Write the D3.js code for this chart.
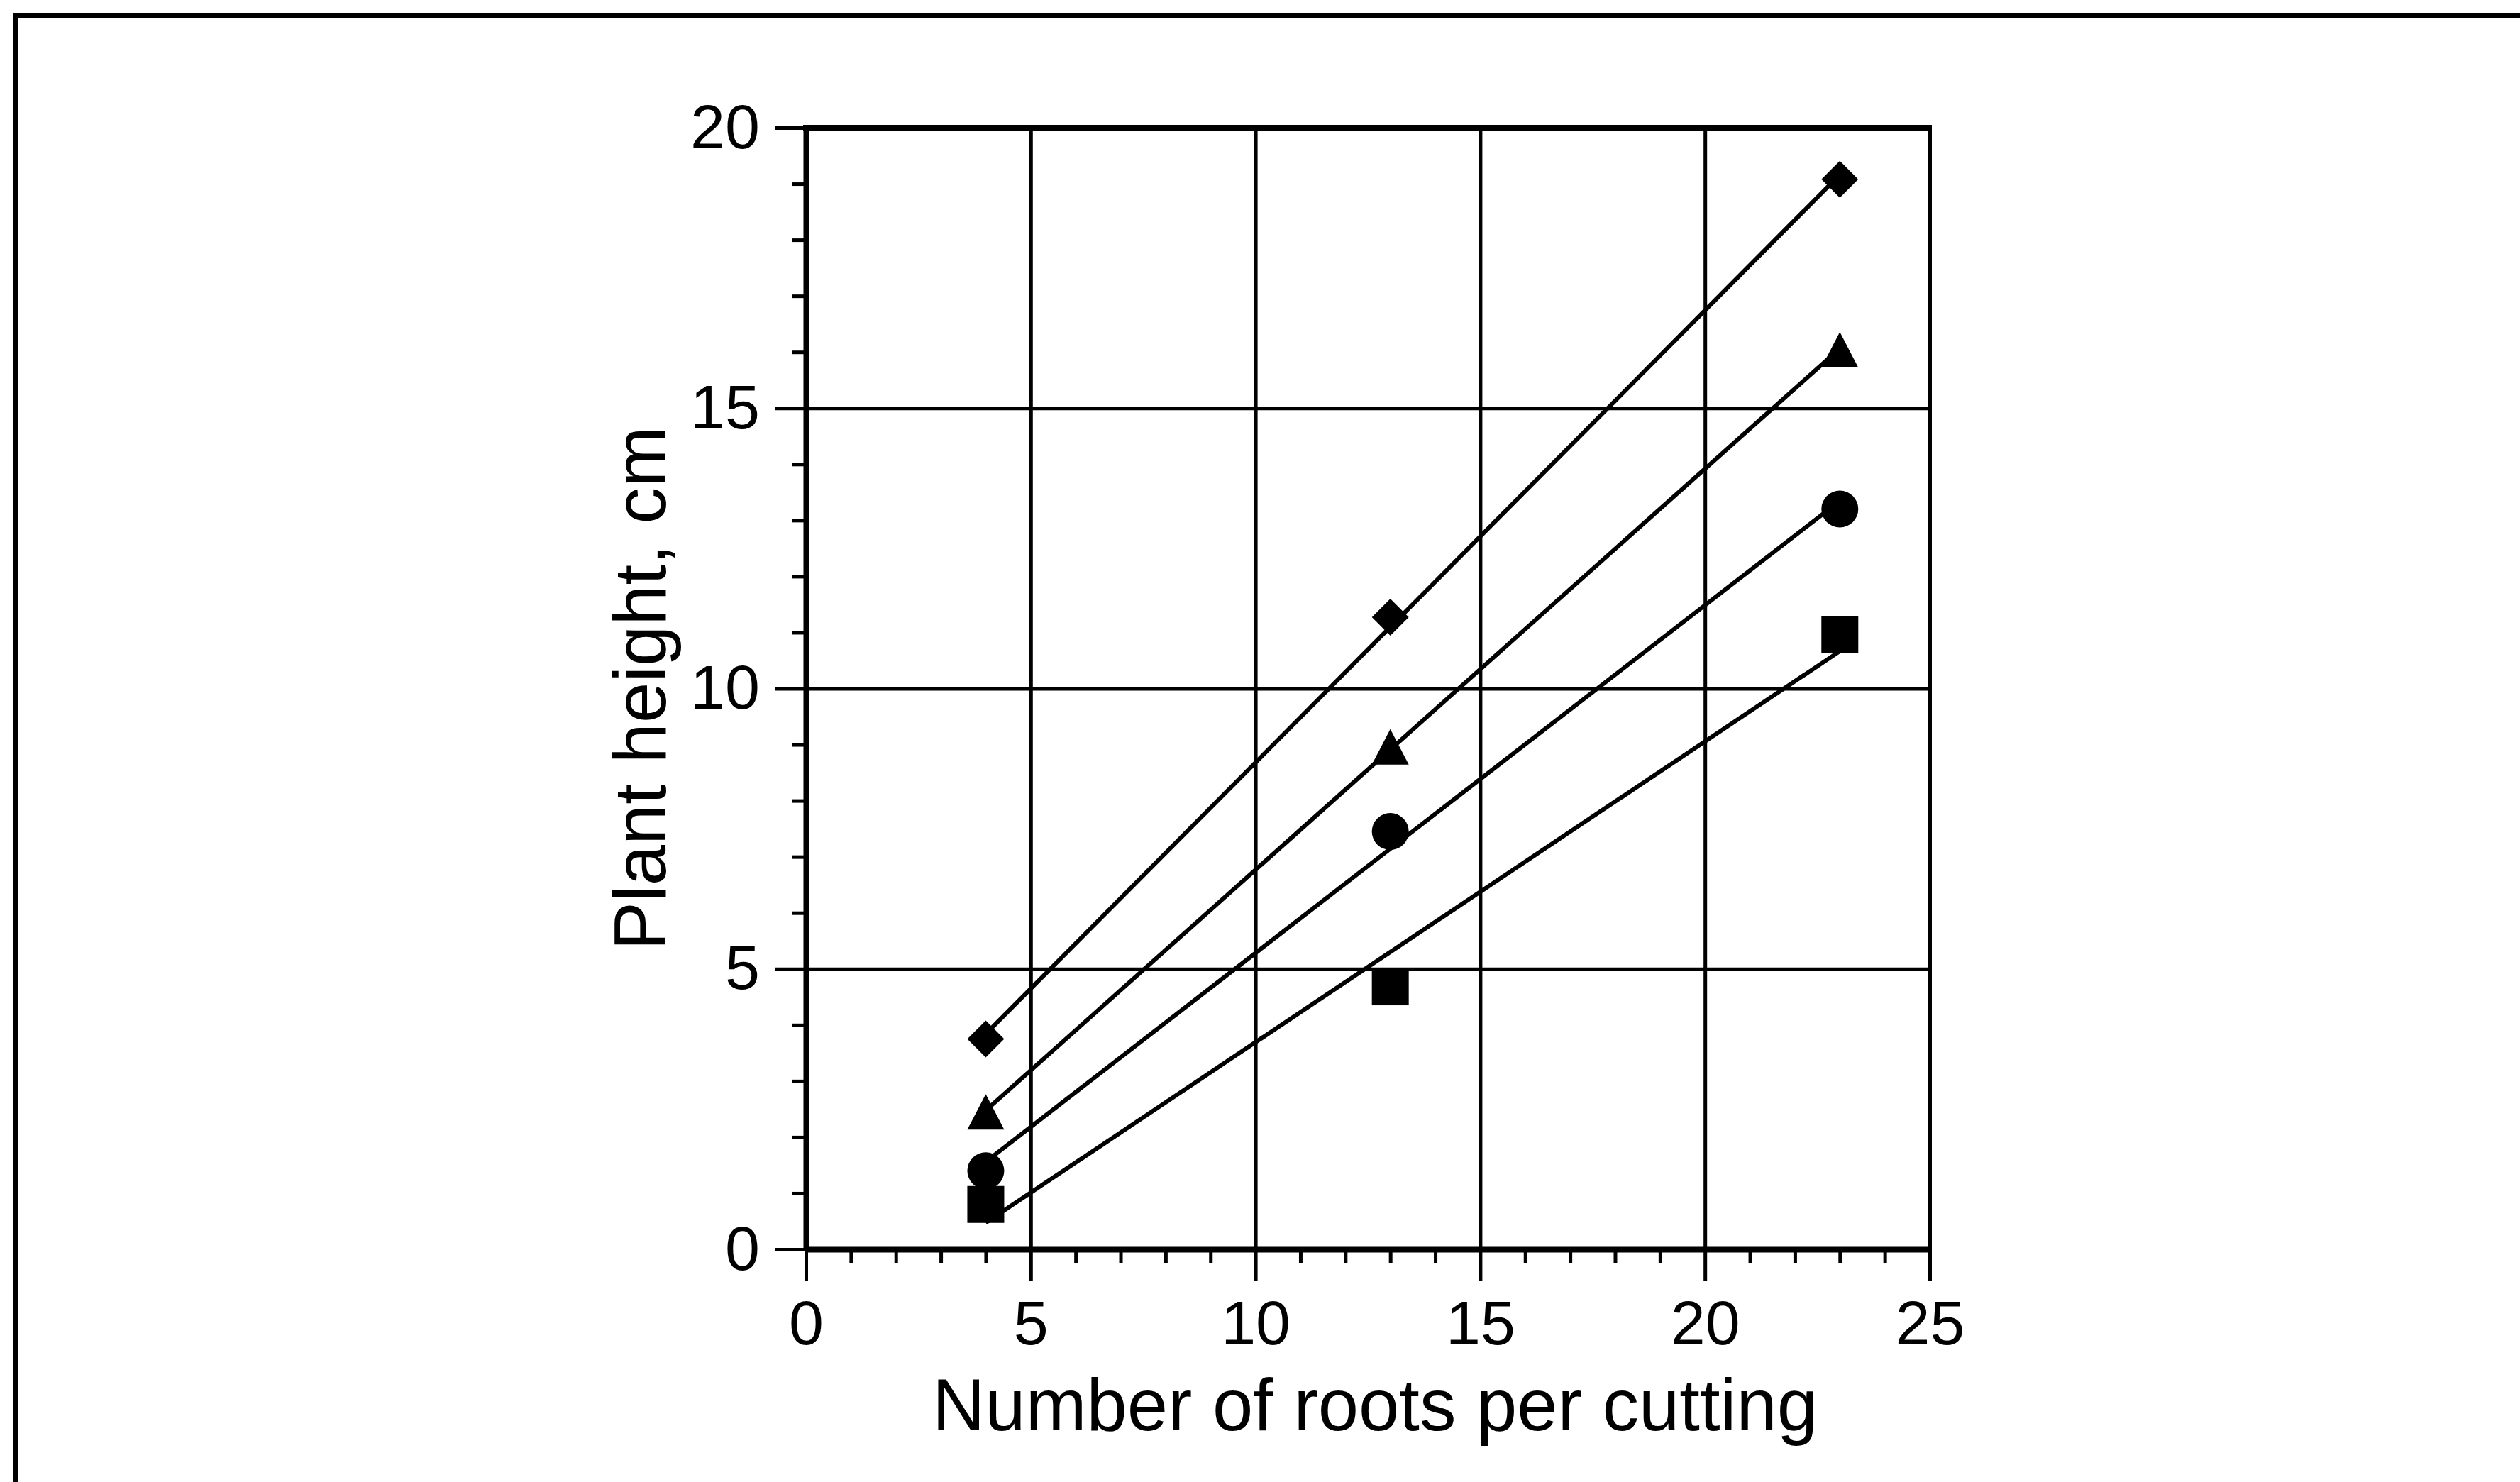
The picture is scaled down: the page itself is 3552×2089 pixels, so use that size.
<!DOCTYPE html>
<html>
<head>
<meta charset="utf-8">
<script src="https://cdn.jsdelivr.net/npm/d3@7"></script>
<style>
  body { margin: 0; background: #fff; }
  text { font-family: "Liberation Sans", Arial, Helvetica, sans-serif; fill: #000; }
</style>
</head>
<body>
<svg id="chart"></svg>
<script>
// data
const roots = [4, 13, 23];
const diamondH = [3.75, 11.27, 19.08];
const triangleH = [2.45, 8.96, 16.04];
const circleH = [1.40, 7.45, 13.2];
const squareH = [0.80, 4.68, 10.96];
const xTicks = [0, 5, 10, 15, 20, 25];
const yTicks = [0, 5, 10, 15, 20];
const xLabel = "Number of roots per cutting";
const yLabel = "Plant height, cm";

const W = 3552, H = 2089;
const margin = {left: 1136, right: W - 2720, top: 180, bottom: H - 1761};
const iw = W - margin.left - margin.right;
const ih = H - margin.top - margin.bottom;

const svg = d3.select("#chart").attr("width", W).attr("height", H);

// outer frame (top and left only visible)
svg.append("line").attr("x1", 18).attr("x2", W).attr("y1", 22).attr("y2", 22)
  .attr("stroke", "#000").attr("stroke-width", 8);
svg.append("line").attr("x1", 22).attr("x2", 22).attr("y1", 18).attr("y2", H)
  .attr("stroke", "#000").attr("stroke-width", 8);

const g = svg.append("g").attr("transform", `translate(${margin.left},${margin.top})`);

const x = d3.scaleLinear().domain([0, 25]).range([0, iw]);
const y = d3.scaleLinear().domain([0, 20]).range([ih, 0]);

// grid
g.append("g").attr("class", "grid")
  .call(d3.axisBottom(x).tickValues(xTicks.filter(v => v > 0 && v < 25)).tickSize(ih).tickFormat(""))
  .call(s => s.select(".domain").remove())
  .call(s => s.selectAll("line").attr("stroke", "#000").attr("stroke-width", 5));
g.append("g").attr("class", "grid")
  .call(d3.axisLeft(y).tickValues(yTicks.filter(v => v > 0 && v < 20)).tickSize(-iw).tickFormat(""))
  .call(s => s.select(".domain").remove())
  .call(s => s.selectAll("line").attr("stroke", "#000").attr("stroke-width", 5));

// top and right border
g.append("line").attr("x1", -4).attr("x2", iw + 3).attr("y1", 0).attr("y2", 0)
  .attr("stroke", "#000").attr("stroke-width", 8);
g.append("line").attr("x1", iw).attr("x2", iw).attr("y1", 0).attr("y2", ih)
  .attr("stroke", "#000").attr("stroke-width", 6);

// minor ticks
const minorX = d3.range(0, 26).filter(v => v % 5);
const minorY = d3.range(0, 21).filter(v => v % 5);
g.append("g").attr("transform", `translate(0,${ih})`)
  .call(d3.axisBottom(x).tickValues(minorX).tickSize(19).tickFormat(""))
  .call(s => s.select(".domain").remove())
  .call(s => s.selectAll("line").attr("stroke-width", 5));
g.append("g")
  .call(d3.axisLeft(y).tickValues(minorY).tickSize(19).tickFormat(""))
  .call(s => s.select(".domain").remove())
  .call(s => s.selectAll("line").attr("stroke-width", 5));

// main axes
const xAxis = g.append("g").attr("transform", `translate(0,${ih})`)
  .call(d3.axisBottom(x).tickValues(xTicks).tickSize(44).tickSizeOuter(0).tickPadding(28));
const yAxis = g.append("g")
  .call(d3.axisLeft(y).tickValues(yTicks).tickSize(43).tickSizeOuter(0).tickPadding(22));
[xAxis, yAxis].forEach(a => {
  a.select(".domain").attr("stroke-width", 8);
  a.selectAll(".tick line").attr("stroke-width", 5);
  a.selectAll("text").attr("font-size", 88).attr("font-family", null);
});

// axis titles
svg.append("text")
  .attr("x", 1938).attr("y", 2016)
  .attr("text-anchor", "middle").attr("font-size", 103)
  .text(xLabel);
svg.append("text")
  .attr("transform", `translate(938,${margin.top + ih / 2}) rotate(-90)`)
  .attr("text-anchor", "middle").attr("font-size", 103)
  .text(yLabel);

// least squares fit
function fit(xs, ys) {
  let mx = d3.mean(xs), my = d3.mean(ys);
  let sxy = d3.sum(xs, (v, i) => (v - mx) * (ys[i] - my));
  let sxx = d3.sum(xs, v => (v - mx) * (v - mx));
  let b = sxy / sxx;
  return {a: my - b * mx, b: b};
}

function calcDiamond(cx, cy, r) {
  return `M${cx},${cy - r}L${cx + r},${cy}L${cx},${cy + r}L${cx - r},${cy}Z`;
}
function calcTriangle(cx, cy, w, h) {
  return `M${cx},${cy - h / 2}L${cx + w / 2},${cy + h / 2}L${cx - w / 2},${cy + h / 2}Z`;
}

const series = [
  {name: "diamond", values: diamondH},
  {name: "triangle", values: triangleH},
  {name: "circle", values: circleH},
  {name: "square", values: squareH}
];

const line = d3.line().x(d => x(d[0])).y(d => y(d[1]));
const lo = d3.min(roots), hi = d3.max(roots);

series.forEach(s => {
  const f = fit(roots, s.values);
  g.append("path")
    .datum([[lo, f.a + f.b * lo], [hi, f.a + f.b * hi]])
    .attr("d", line)
    .attr("fill", "none").attr("stroke", "#000").attr("stroke-width", 6);

  const pts = roots.map((r, i) => [r, s.values[i]]);
  const sel = g.selectAll(null).data(pts);
  if (s.name === "circle") {
    sel.enter().append("circle")
      .attr("cx", d => x(d[0])).attr("cy", d => y(d[1])).attr("r", 26).attr("fill", "#000");
  } else if (s.name === "square") {
    sel.enter().append("rect")
      .attr("x", d => x(d[0]) - 26).attr("y", d => y(d[1]) - 26)
      .attr("width", 52).attr("height", 52).attr("fill", "#000");
  } else if (s.name === "diamond") {
    sel.enter().append("path")
      .attr("d", d => calcDiamond(x(d[0]), y(d[1]), 26)).attr("fill", "#000");
  } else {
    sel.enter().append("path")
      .attr("d", d => calcTriangle(x(d[0]), y(d[1]), 52, 50)).attr("fill", "#000");
  }
});
</script>
</body>
</html>
